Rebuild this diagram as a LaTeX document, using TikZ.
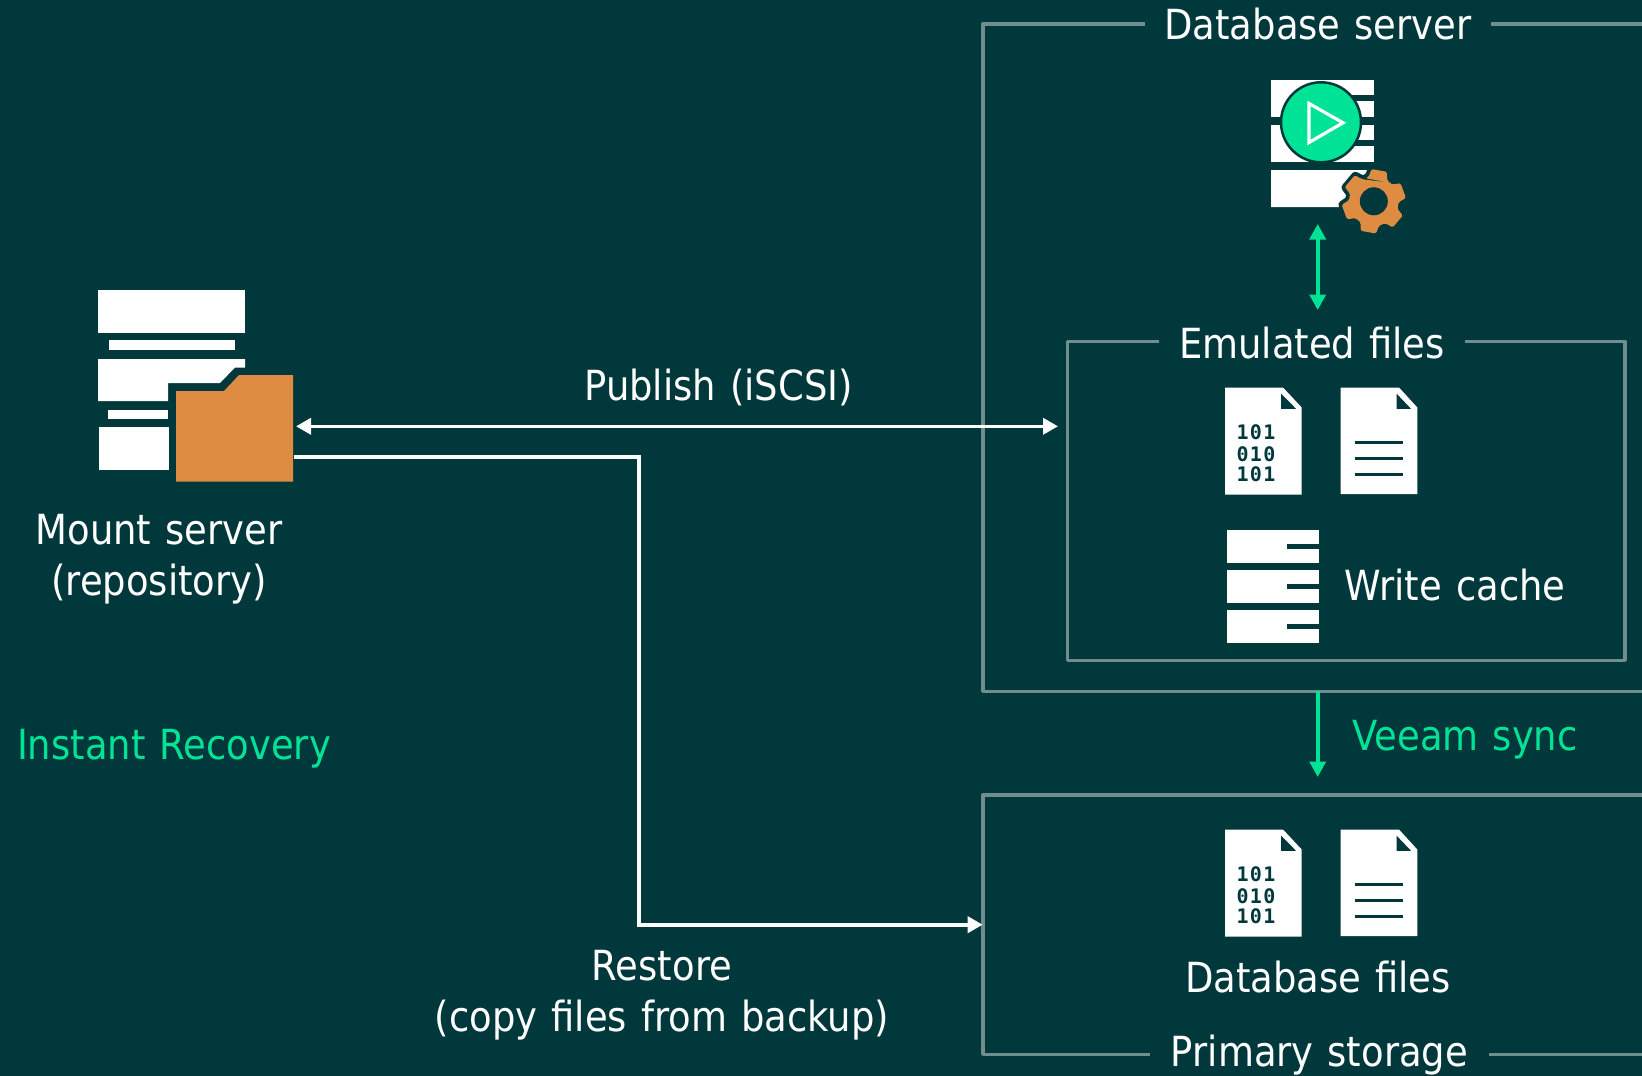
\documentclass[tikz,border=0pt]{standalone}
\usepackage{fontspec}
\setmainfont[FakeStretch=0.89,WordSpace=1.2]{DejaVu Sans}
\newfontfamily\digitfont[LetterSpace=7]{DejaVu Sans Mono Bold}
\usetikzlibrary{arrows.meta}
\definecolor{bgc}{HTML}{00383B}
\definecolor{boxc}{HTML}{718E8E}
\definecolor{grn}{HTML}{00E296}
\definecolor{org}{HTML}{DE8C42}
\tikzset{
  lab/.style={text=white,font=\fontsize{41.5}{41.5}\selectfont,anchor=base,inner sep=0pt},
  glab/.style={lab,text=grn},
  frame/.style={draw=boxc,line width=3.6pt,line join=round},
  wline/.style={draw=white,line width=3.6pt,{Triangle[length=15pt,width=16pt]}-{Triangle[length=15pt,width=16pt]}},
  wone/.style={draw=white,line width=3.6pt,line join=miter,-{Triangle[length=15pt,width=16pt]}},
  gline/.style={draw=grn,line width=3.6pt,{Triangle[length=15.5pt,width=16pt]}-{Triangle[length=15.5pt,width=16pt]}},
  gone/.style={draw=grn,line width=3.6pt,-{Triangle[length=15.5pt,width=16pt]}},
  dig/.style={text=bgc,font=\fontsize{20}{20}\digitfont,anchor=base,inner sep=0pt},
  fileBin/.pic={
    \fill[white] (0,0) -- (58,0) -- (76.7,20) -- (76.7,107) -- (0,107) -- cycle;
    \fill[bgc] (56,6) -- (56,21.3) -- (71,21.3) -- cycle;
    \node[dig] (-a) at (31,52) {101};
    \node[dig] (-b) at (31,73.5) {010};
    \node[dig] (-c) at (31,93.5) {101};
  },
  fileTxt/.pic={
    \fill[white] (0,0) -- (58.3,0) -- (76.6,20) -- (76.6,106.7) -- (0,106.7) -- cycle;
    \fill[bgc] (56,6.3) -- (56,21.3) -- (70.3,21.3) -- cycle;
    \foreach \yy in {55,71,86.7} \draw[bgc,line width=3pt] (14,\yy) -- (62.6,\yy);
  },
  gearpath/.style={rounded corners=1.5pt}
}
\begin{document}
\begin{tikzpicture}[x=1pt,y=-1pt]
\path[fill=bgc] (0,0) rectangle (1642,1076);
\useasboundingbox (0,0) rectangle (1642,1076);

% frames
\draw[frame] (1145,24) -- (982.7,24) -- (982.7,691.3) -- (1642,691.3);
\draw[frame] (1491,24) -- (1642,24);
\draw[frame] (1159,341.5) -- (1067.5,341.5) -- (1067.5,660.3) -- (1625,660.3) -- (1625,341.5) -- (1465,341.5);
\draw[frame] (1150,1054.3) -- (982.7,1054.3) -- (982.7,795) -- (1642,795);
\draw[frame] (1489,1054.3) -- (1642,1054.3);

% mount server icon
\fill[white] (98,290) rectangle (245,333);
\fill[white] (109,340) rectangle (235,350);
\fill[white] (98,359) -- (245,359) -- (245,367.5) -- (235,367.5) -- (220,383) -- (168,383) -- (168,401) -- (98,401) -- cycle;
\fill[white] (108,410) rectangle (168,419);
\fill[white] (99,427) rectangle (169,470.3);
\fill[org] (176,391) -- (224,391) -- (239,375) -- (293,375) -- (293,481.5) -- (176,481.5) -- cycle;

% database server icon
\fill[white] (1271,80) rectangle (1374,117);
\fill[bgc] (1345,95) rectangle (1374,101);
\fill[white] (1271,125) rectangle (1374,162);
\fill[bgc] (1345,140) rectangle (1374,146);
\fill[white] (1271,170) -- (1371,170) -- (1371,177) -- (1352,177) -- (1352,207) -- (1271,207) -- cycle;
\fill[grn,draw=bgc,line width=2.5pt] (1321,122.3) circle (40);
\draw[white,line width=3.2pt,line join=miter] (1309,103.5) -- (1309,142.5) -- (1343,122.8) -- cycle;
\begin{scope}[shift={(1373.8,201.3)}]
  \draw[bgc,line width=8pt,line join=round] (-50:24.5)
    \foreach \a in {-80,-20,40,100,160,220} { -- (\a-30:24.5) -- (\a-22:25) -- (\a-14:31.5) -- (\a+14:31.5) -- (\a+22:25) } -- cycle;
  \fill[org,gearpath] (-50:24.5)
    \foreach \a in {-80,-20,40,100,160,220} { -- (\a-30:24.5) -- (\a-22:25) -- (\a-14:32.3) -- (\a+14:32.3) -- (\a+22:25) } -- cycle;
  \fill[bgc] (0,0) circle (14);
\end{scope}

% emulated files
\pic (emuBin) at (1225,387.5) {fileBin};
\pic (emuTxt) at (1340.7,387.5) {fileTxt};

% write cache
\foreach \yy/\ss in {529.8/543.8,570.2/583.8,610.2/623.8}{
  \fill[white] (1227.3,\yy) rectangle (1318.7,\yy+32.7);
  \fill[bgc] (1286.7,\ss) rectangle (1318.7,\ss+5.3);
}

% database files
\pic (dbBin) at (1225,829.5) {fileBin};
\pic (dbTxt) at (1340.7,829.5) {fileTxt};

% labels
\node[lab] (tDbServer) at (1318,39) {Database server};
\node[lab] (tEmu) at (1312,358) {Emulated files};
\node[lab] (tPublish) at (718.6,400) {Publish (iSCSI)};
\node[lab] (tMount) at (159,544) {Mount server};
\node[lab] (tRepo) at (159,595) {(repository)};
\node[lab] (tWrite) at (1455,600) {Write cache};
\node[glab] (tInstant) at (174,759) {Instant Recovery};
\node[glab] (tSync) at (1465,750) {Veeam sync};
\node[lab] (tDbFiles) at (1318,992.5) {Database files};
\node[lab] (tPrimary) at (1319.5,1066) {Primary storage};
\node[lab] (tRestore) at (662,980.5) {Restore};
\node[lab] (tCopy) at (662,1031.5) {(copy files from backup)};

% connector ends
\coordinate (pubL) at (296,426.3);
\coordinate (pubR) at (1058,426.3);
\coordinate (resA) at (294,457);
\coordinate (resB) at (639,457);
\coordinate (resC) at (639,924.7);
\coordinate (resD) at (982.7,924.7);
\coordinate (dbTop) at (1317.7,224);
\coordinate (dbBot) at (1317.7,310);
\coordinate (syncA) at (1317.7,691.3);
\coordinate (syncB) at (1317.7,777);

\draw[wline] (pubL) -- (pubR);
\draw[wone] (resA) -- (resB) -- (resC) -- (resD);
\draw[gline] (dbTop) -- (dbBot);
\draw[gone] (syncA) -- (syncB);
\end{tikzpicture}
\end{document}
